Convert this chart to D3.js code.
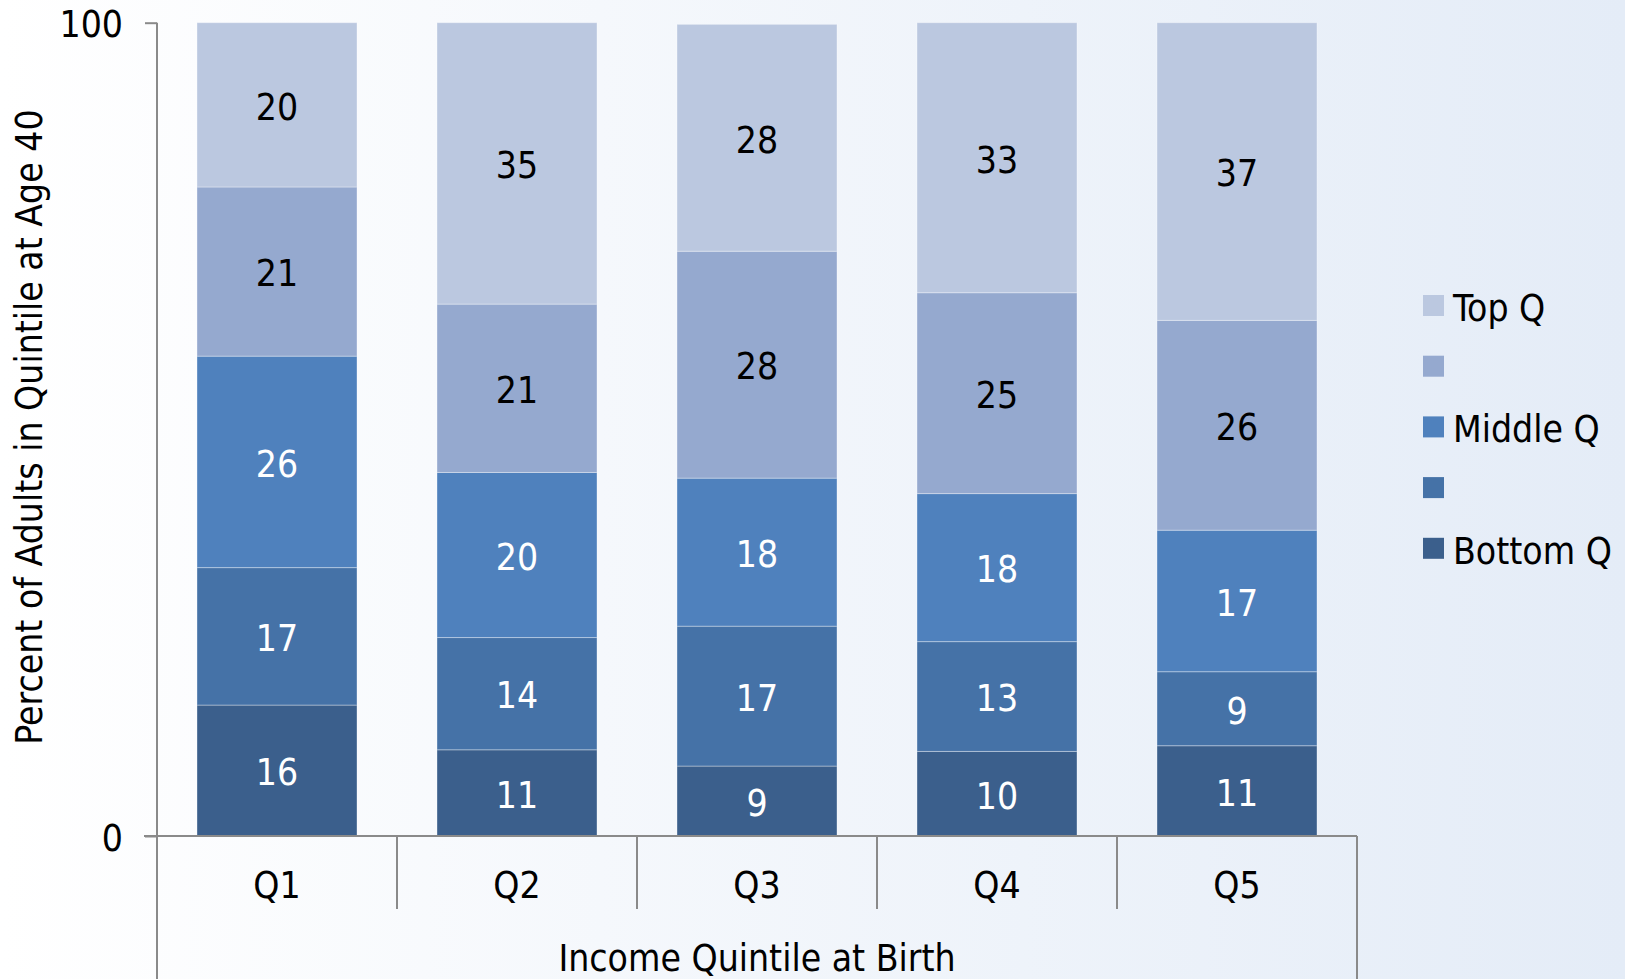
<!DOCTYPE html>
<html>
<head>
<meta charset="utf-8">
<script src="https://cdn.jsdelivr.net/npm/d3@7"></script>
<style>
  html, body { margin: 0; padding: 0; }
  body { width: 1625px; height: 979px; overflow: hidden; }
  svg text { font-family: "DejaVu Sans Condensed", "DejaVu Sans", sans-serif; font-stretch: condensed; }
</style>
</head>
<body>
<svg id="chart" width="1625" height="979"></svg>
<script>
// Birth income quintile (x) and share of adults in each quintile at age 40
const categories = ["Q1", "Q2", "Q3", "Q4", "Q5"];
const bottomQ = [16.1, 10.6, 8.6, 10.4, 11.1];
const secondQ = [16.9, 13.8, 17.2, 13.5, 9.1];
const middleQ = [26.0, 20.3, 18.2, 18.2, 17.4];
const fourthQ = [20.8, 20.7, 27.9, 24.7, 25.8];
const topQ    = [20.2, 34.6, 27.9, 33.2, 36.6];

const seriesKeys   = ["bottom", "second", "middle", "fourth", "top"];
const seriesValues = [bottomQ, secondQ, middleQ, fourthQ, topQ];
const legendLabels = ["Bottom Q", "", "Middle Q", "", "Top Q"];
const seriesColors = ["#3b5f8c", "#4572a7", "#4f81bd", "#95a9cf", "#bbc8e0"];
const labelColors  = ["#ffffff", "#ffffff", "#ffffff", "#000000", "#000000"];
const yTicks = [0, 100];
const xTitle = "Income Quintile at Birth";
const yTitle = "Percent of Adults in Quintile at Age 40";

const FONT = 37;

const rows = categories.map((c, i) => {
  const r = { cat: c };
  seriesKeys.forEach((k, j) => r[k] = seriesValues[j][i]);
  return r;
});

const svg = d3.select("#chart");

// soft white-to-blue backdrop
const grad = svg.append("defs").append("linearGradient")
  .attr("id", "bg").attr("x1", "0%").attr("x2", "100%").attr("y1", "0%").attr("y2", "0%");
grad.append("stop").attr("offset", "0%").attr("stop-color", "#ffffff");
grad.append("stop").attr("offset", "100%").attr("stop-color", "#e4ecf7");
svg.append("rect").attr("width", 1625).attr("height", 979).attr("fill", "url(#bg)");

const x = d3.scaleBand().domain(categories).range([157, 1357])
  .paddingInner(1 / 3).paddingOuter(1 / 6);
const y = d3.scaleLinear().domain([0, 100]).range([836, 22.7]);
const color = d3.scaleOrdinal().domain(seriesKeys).range(seriesColors);

const stacked = d3.stack().keys(seriesKeys)(rows);

// stacked segments
const layers = svg.append("g").selectAll("g").data(stacked).join("g")
  .attr("fill", d => color(d.key));
layers.selectAll("rect").data(d => d).join("rect")
  .attr("x", d => x(d.data.cat))
  .attr("width", x.bandwidth())
  .attr("y", d => y(d[1]))
  .attr("height", d => y(d[0]) - y(d[1]))
  .attr("stroke", "rgba(255,255,255,0.35)")
  .attr("stroke-width", 1);

// value labels centred in each segment
stacked.forEach((layer, j) => {
  svg.append("g").selectAll("text").data(layer).join("text")
    .attr("x", d => x(d.data.cat) + x.bandwidth() / 2)
    .attr("y", d => (y(d[0]) + y(d[1])) / 2)
    .attr("dy", "0.4em")
    .attr("text-anchor", "middle")
    .attr("font-size", FONT)
    .attr("fill", labelColors[j])
    .text(d => Math.round(d[1] - d[0]));
});

const axisColor = "#8a8a8a";

// y axis
const yAxis = svg.append("g").attr("transform", "translate(157,0)")
  .call(d3.axisLeft(y).tickValues(yTicks).tickSize(12).tickPadding(22).tickFormat(d3.format("d")));
yAxis.select(".domain").remove();
yAxis.selectAll(".tick line").attr("stroke", axisColor).attr("stroke-width", 2);
yAxis.selectAll(".tick text").attr("font-size", FONT).attr("fill", "#000")
  .attr("font-family", null).attr("dy", "0.38em");
svg.append("line").attr("x1", 157).attr("x2", 157).attr("y1", y(100)).attr("y2", 979)
  .attr("stroke", axisColor).attr("stroke-width", 2);

// category axis with boxed labels
const xLeft = x.range()[0], xRight = x.range()[1];
svg.append("line").attr("x1", 144).attr("x2", xRight).attr("y1", y(0)).attr("y2", y(0))
  .attr("stroke", axisColor).attr("stroke-width", 2);
svg.append("line").attr("x1", xRight).attr("x2", xRight).attr("y1", y(0)).attr("y2", 979)
  .attr("stroke", axisColor).attr("stroke-width", 2);
svg.append("g").selectAll("line").data(categories.slice(1)).join("line")
  .attr("x1", d => x(d) - x.step() * x.paddingInner() / 2)
  .attr("x2", d => x(d) - x.step() * x.paddingInner() / 2)
  .attr("y1", y(0)).attr("y2", y(0) + 73)
  .attr("stroke", axisColor).attr("stroke-width", 2);
svg.append("g").selectAll("text").data(categories).join("text")
  .attr("x", d => x(d) + x.bandwidth() / 2)
  .attr("y", 898)
  .attr("text-anchor", "middle")
  .attr("font-size", FONT)
  .attr("fill", "#000")
  .text(d => d);

// axis titles
svg.append("text").attr("x", (xLeft + xRight) / 2).attr("y", 971)
  .attr("text-anchor", "middle").attr("font-size", FONT).attr("fill", "#000").text(xTitle);
svg.append("text").attr("transform", "translate(42,427) rotate(-90)")
  .attr("text-anchor", "middle").attr("font-size", FONT).attr("fill", "#000").text(yTitle);

// legend, top series first
const legend = svg.append("g").attr("transform", "translate(1423,295)");
const legendOrder = seriesKeys.slice().reverse();
const legendItems = legend.selectAll("g").data(legendOrder).join("g")
  .attr("transform", (d, i) => `translate(0,${i * 60.7})`);
legendItems.append("rect").attr("width", 21).attr("height", 21)
  .attr("fill", d => color(d));
legendItems.append("text").attr("x", 30).attr("y", 26)
  .attr("font-size", FONT).attr("fill", "#000")
  .text(d => legendLabels[seriesKeys.indexOf(d)]);
</script>
</body>
</html>
